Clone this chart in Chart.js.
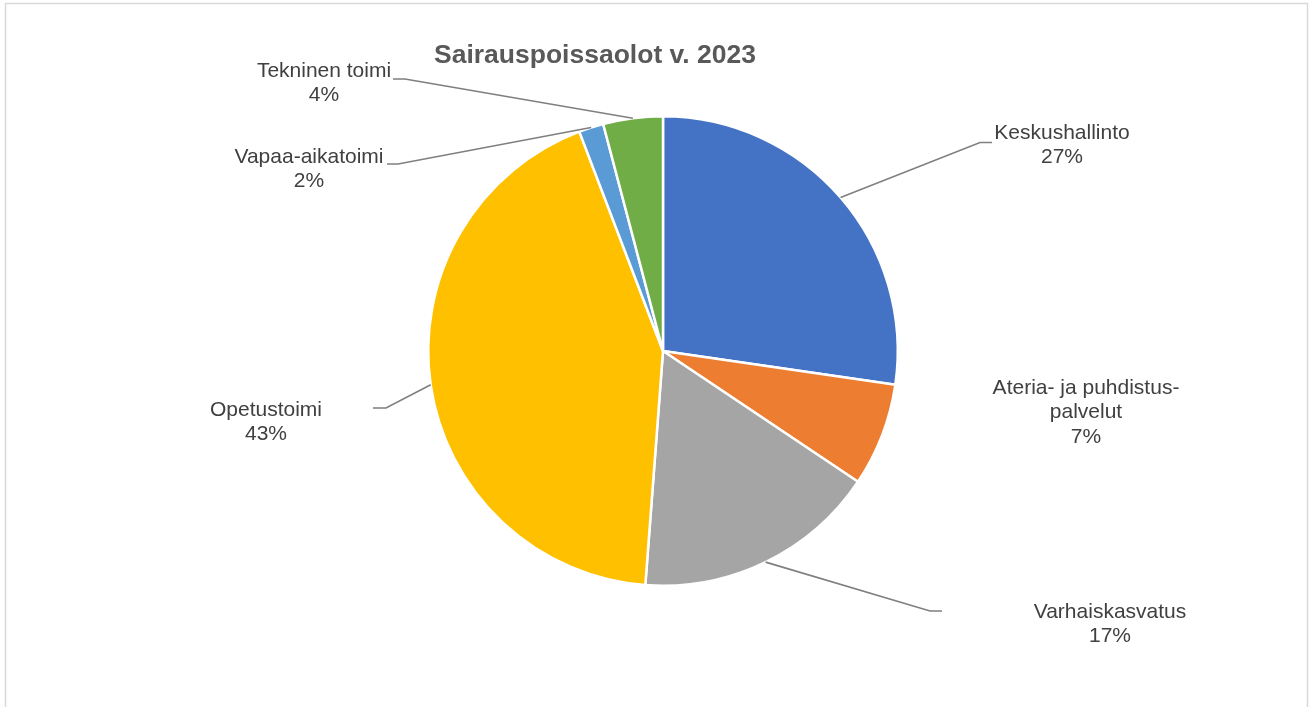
<!DOCTYPE html>
<html>
<head>
<meta charset="utf-8">
<script src="https://cdn.jsdelivr.net/npm/chart.js@4.4.1/dist/chart.umd.min.js"></script>
<style>
  html,body{margin:0;padding:0;background:#fff;}
  #wrap{position:relative;width:1309px;height:707px;}
</style>
</head>
<body>
<div id="wrap"><canvas id="pie" width="1309" height="707"></canvas></div>
<script>
// DATA (osuus %, luettu kuvasta)
const categories=["Keskushallinto",["Ateria- ja puhdistus-","palvelut"],"Varhaiskasvatus","Opetustoimi","Vapaa-aikatoimi","Tekninen toimi"];
const shares=[27.3,7.1,16.8,43.0,1.7,4.1];
const colors=["#4472C4","#ED7D31","#A5A5A5","#FFC000","#5B9BD5","#70AD47"];
const chartTitle="Sairauspoissaolot v. 2023";

// label placement: text centre x, first line y, leader elbow & end (null = no leader)
const labelPos=[
  {x:1062,y:133,elbow:[980,142.5],end:[992,142.5]},
  {x:1086,y:388,elbow:null,end:null},
  {x:1110,y:612,elbow:[930,611],end:[942,611]},
  {x:266,y:410,elbow:[386,408],end:[373,408]},
  {x:309,y:157,elbow:[398,164],end:[387,164]},
  {x:324,y:71,elbow:[405,79],end:[393,79]}
];

const FONT='"Liberation Sans", Arial, sans-serif';

const decor={
  id:"decor",
  beforeDraw(chart){
    const c=chart.ctx;
    c.save();
    c.strokeStyle="#d9d9d9";c.lineWidth=1.5;
    c.strokeRect(5.5,3.5,1302,760);
    c.restore();
  },
  afterDatasetsDraw(chart){
    const c=chart.ctx;
    const meta=chart.getDatasetMeta(0);
    const total=shares.reduce((a,b)=>a+b,0);
    c.save();
    // title
    c.fillStyle="#595959";
    c.font="bold 26.5px "+FONT;
    c.textAlign="center";c.textBaseline="middle";
    c.fillText(chartTitle,595,56);

    meta.data.forEach((arc,i)=>{
      const p=labelPos[i];
      const mid=(arc.startAngle+arc.endAngle)/2;
      if(p.elbow){
        c.strokeStyle="#7f7f7f";c.lineWidth=1.6;
        c.beginPath();
        c.moveTo(arc.x+Math.cos(mid)*arc.outerRadius,arc.y+Math.sin(mid)*arc.outerRadius);
        c.lineTo(p.elbow[0],p.elbow[1]);
        c.lineTo(p.end[0],p.end[1]);
        c.stroke();
      }
      const name=categories[i];
      const lines=(Array.isArray(name)?name.slice():[name]);
      lines.push(Math.round(shares[i]/total*100)+"%");
      c.fillStyle="#404040";
      c.font="21px "+FONT;
      c.textAlign="center";c.textBaseline="middle";
      lines.forEach((t,k)=>c.fillText(t,p.x,p.y+k*24.5));
    });
    c.restore();
  }
};

new Chart(document.getElementById("pie"),{
  type:"pie",
  data:{
    labels:categories,
    datasets:[{
      data:shares,
      backgroundColor:colors,
      borderColor:"#ffffff",
      borderWidth:2.5
    }]
  },
  options:{
    responsive:false,
    animation:false,
    layout:{padding:{top:115,bottom:120,left:427,right:410}},
    plugins:{legend:{display:false},tooltip:{enabled:false},title:{display:false}}
  },
  plugins:[decor]
});
</script>
</body>
</html>
